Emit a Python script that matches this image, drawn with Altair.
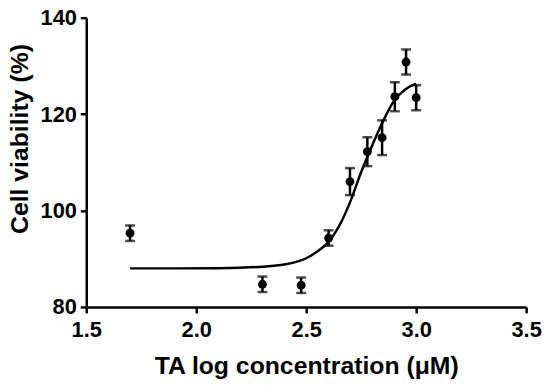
import altair as alt
import pandas as pd

# measured data (log10 of concentration in µM)
conc = [1.699, 2.301, 2.477, 2.602, 2.699, 2.778, 2.845, 2.903, 2.954, 3.0]
viability = [95.3, 84.7, 84.5, 94.3, 106.0, 112.2, 115.1, 123.6, 130.8, 123.4]
sem = [1.6, 1.6, 1.6, 1.6, 2.8, 3.0, 3.6, 3.0, 2.6, 2.6]

# fitted curve
curve_x = [1.699, 1.9, 2.1, 2.2, 2.3, 2.4, 2.45, 2.5, 2.55, 2.6, 2.65, 2.7, 2.75, 2.8, 2.85, 2.9, 2.95, 3.0]
curve_y = [88.0, 88.0, 88.05, 88.15, 88.35, 88.8, 89.3, 90.1, 91.5, 93.4, 96.8, 101.8, 108.0, 113.5, 118.6, 122.8, 125.1, 126.3]

pts = pd.DataFrame({"x": conc, "y": viability,
                    "lo": [v - e for v, e in zip(viability, sem)],
                    "hi": [v + e for v, e in zip(viability, sem)]})
cur = pd.DataFrame({"x": curve_x, "y": curve_y})

FONT = "Liberation Sans"

xs = alt.Scale(domain=[1.5, 3.5], nice=False, zero=False)
ys = alt.Scale(domain=[80, 140], nice=False, zero=False)

xax = alt.Axis(values=[1.5, 2.0, 2.5, 3.0, 3.5], format=".1f", grid=False, labelFlush=False,
               labelBaseline="alphabetic", labelPadding=24,
               title="TA log concentration (\u03bcM)", titleBaseline="alphabetic", titleY=67)
yax = alt.Axis(values=[80, 100, 120, 140], grid=False, labelFlush=False, labelPadding=4,
               title="Cell viability (%)", titleAngle=270, titleBaseline="alphabetic",
               titleAlign="center", titleX=-59, titleY=122)

line = alt.Chart(cur).mark_line(color="black", strokeWidth=2.5, interpolate="monotone").encode(
    x=alt.X("x:Q", scale=xs, axis=xax),
    y=alt.Y("y:Q", scale=ys, axis=yax),
)

bars = alt.Chart(pts).mark_rule(color="black", strokeWidth=2.5).encode(
    x="x:Q", y="lo:Q", y2="hi:Q")
cap_lo = alt.Chart(pts).mark_tick(color="black", orient="horizontal", size=10, thickness=2.5).encode(
    x="x:Q", y="lo:Q")
cap_hi = alt.Chart(pts).mark_tick(color="black", orient="horizontal", size=10, thickness=2.5).encode(
    x="x:Q", y="hi:Q")
dots = alt.Chart(pts).mark_circle(color="black", opacity=1, size=80).encode(
    x="x:Q", y="y:Q")

chart = alt.layer(line, bars, cap_lo, cap_hi, dots).properties(
    width=444, height=292,
    autosize=alt.AutoSizeParams(type="none"),
    padding={"left": 79, "top": 8, "right": 16, "bottom": 75},
).configure_view(stroke=None).configure_axis(
    domainColor="black", domainWidth=2.5, tickColor="black", tickWidth=2.5, tickSize=6,
    labelFont=FONT, labelFontSize=22, labelFontWeight="bold", labelColor="black",
    titleFont=FONT, titleFontSize=25, titleFontWeight="bold", titleColor="black",
)

chart.save("out.html", embed_options={"renderer": "svg", "actions": False})
